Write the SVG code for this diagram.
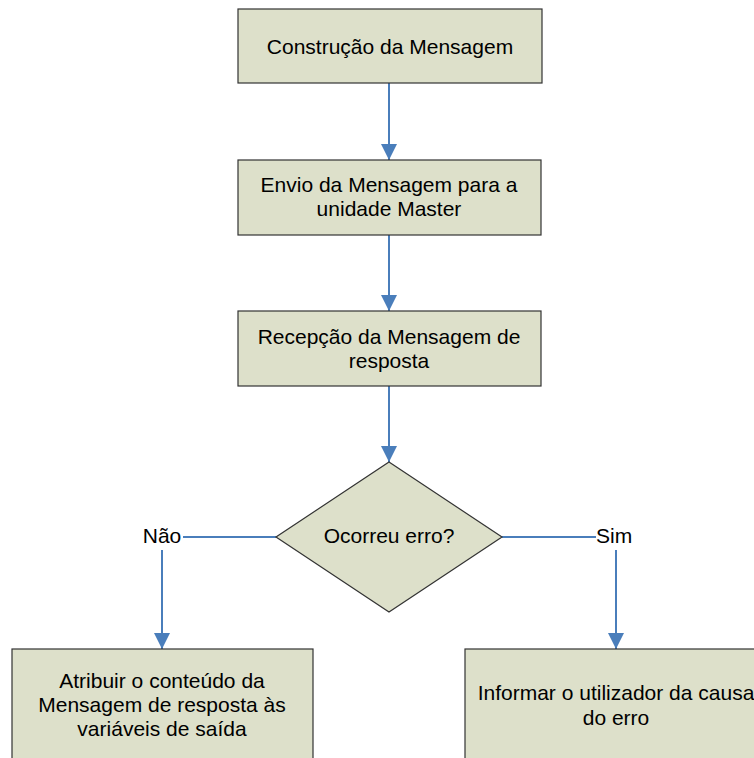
<svg xmlns="http://www.w3.org/2000/svg" width="754" height="758" viewBox="0 0 754 758">
<style>
.box{fill:#DDE0CA;stroke:#333333;stroke-width:1.2}
.t{font-family:"Liberation Sans",Arial,sans-serif;font-size:21px;fill:#000;text-anchor:middle}
.c{fill:none;stroke:#4A7EBB;stroke-width:2}
</style>
<defs>
<marker id="ah" markerUnits="userSpaceOnUse" markerWidth="16" markerHeight="16" refX="16" refY="8" orient="auto" viewBox="0 0 16 16">
<path d="M0,0 L16,8 L0,16 Z" fill="#4A7EBB"/>
</marker>
</defs>
<rect width="754" height="758" fill="#FFFFFF"/>
<g id="connectors">
<line class="c" x1="389" y1="83" x2="389" y2="160" marker-end="url(#ah)"/>
<line class="c" x1="389" y1="235" x2="389" y2="311" marker-end="url(#ah)"/>
<line class="c" x1="389" y1="386" x2="389" y2="462" marker-end="url(#ah)"/>
<line class="c" x1="276" y1="537" x2="183" y2="537"/>
<line class="c" x1="162" y1="550" x2="162" y2="649" marker-end="url(#ah)"/>
<line class="c" x1="502" y1="537" x2="596" y2="537"/>
<line class="c" x1="616" y1="550" x2="616" y2="649" marker-end="url(#ah)"/>
</g>
<g id="n1">
<rect class="box" x="238" y="9" width="304" height="74"/>
<text class="t" x="390" y="54">Construção da Mensagem</text>
</g>
<g id="n2">
<rect class="box" x="238" y="160" width="303" height="75"/>
<text class="t" x="389" y="192">Envio da Mensagem para a</text>
<text class="t" x="389" y="216">unidade Master</text>
</g>
<g id="n3">
<rect class="box" x="238" y="311" width="303" height="75"/>
<text class="t" x="389" y="344">Recepção da Mensagem de</text>
<text class="t" x="389" y="368">resposta</text>
</g>
<g id="n4">
<polygon class="box" points="389,462 502,537 389,612 276,537"/>
<text class="t" x="389" y="543">Ocorreu erro?</text>
</g>
<g id="lbl-nao">
<text class="t" x="162" y="543">Não</text>
</g>
<g id="lbl-sim">
<text class="t" x="596" y="543" style="text-anchor:start">Sim</text>
</g>
<g id="n5">
<rect class="box" x="12" y="649" width="301" height="120"/>
<text class="t" x="162" y="688">Atribuir o conteúdo da</text>
<text class="t" x="162" y="712">Mensagem de resposta às</text>
<text class="t" x="162" y="736">variáveis de saída</text>
</g>
<g id="n6">
<rect class="box" x="465" y="649" width="302" height="120"/>
<text class="t" x="616" y="700">Informar o utilizador da causa</text>
<text class="t" x="616" y="725">do erro</text>
</g>
</svg>
